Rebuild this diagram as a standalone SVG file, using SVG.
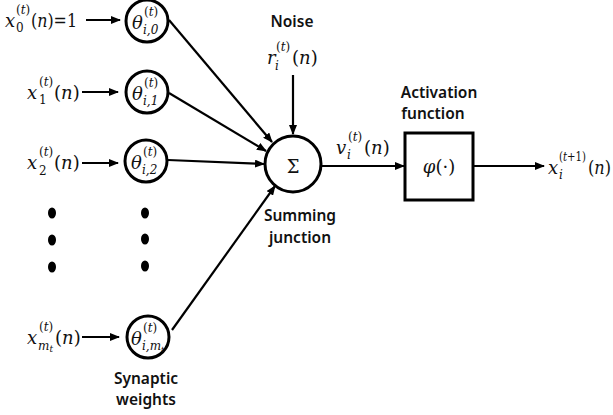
<svg xmlns="http://www.w3.org/2000/svg" width="613" height="415" viewBox="0 0 613 415">
<style>
.m{font-family:"DejaVu Serif","Liberation Serif",serif;font-style:italic;font-size:18px;fill:#111}
.s{font-family:"DejaVu Serif","Liberation Serif",serif;font-style:italic;font-size:12px;fill:#111}
.u{font-family:"DejaVu Serif","Liberation Serif",serif;font-size:18px;fill:#111}
.us{font-family:"DejaVu Serif","Liberation Serif",serif;font-size:12px;fill:#111}
.lbl{font-family:"Noto Sans","Open Sans",sans-serif;font-weight:600;font-size:15.5px;fill:#111;text-anchor:middle}
.c{fill:#fff;stroke:#000;stroke-width:3}
.w{fill:none;stroke:#000;stroke-width:2.2}
.dot{fill:#000}
</style>
<defs>
<marker id="ah" markerWidth="10" markerHeight="8" refX="9" refY="4" orient="auto" markerUnits="userSpaceOnUse">
<path d="M0,0 L10,4 L0,8 z" fill="#000"/>
</marker>
</defs>

<g id="connectors">
<line class="w" x1="86" y1="20" x2="120" y2="20" marker-end="url(#ah)"/>
<line class="w" x1="82" y1="92" x2="118" y2="92" marker-end="url(#ah)"/>
<line class="w" x1="82" y1="163" x2="118" y2="163" marker-end="url(#ah)"/>
<line class="w" x1="82" y1="337" x2="119" y2="337" marker-end="url(#ah)"/>
<line class="w" x1="169" y1="20" x2="272" y2="142" marker-end="url(#ah)"/>
<line class="w" x1="169" y1="93" x2="266" y2="151" marker-end="url(#ah)"/>
<line class="w" x1="168" y1="160" x2="264" y2="164" marker-end="url(#ah)"/>
<line class="w" x1="172" y1="330" x2="275" y2="186" marker-end="url(#ah)"/>
<line class="w" x1="293" y1="75" x2="293" y2="134" marker-end="url(#ah)"/>
<line class="w" x1="322" y1="166" x2="404" y2="166" marker-end="url(#ah)"/>
<line class="w" x1="474" y1="166" x2="544" y2="166" marker-end="url(#ah)"/>
</g>

<g id="input0">
<text class="m" x="5" y="27">x</text><text class="us" x="16" y="14">(<tspan class="s">t</tspan>)</text><text class="us" x="16" y="32">0</text><text class="u" x="31" y="27" textLength="46" lengthAdjust="spacingAndGlyphs">(<tspan class="m">n</tspan>)=1</text>
</g>
<g id="input1">
<text class="m" x="27" y="99">x</text><text class="us" x="39" y="86">(<tspan class="s">t</tspan>)</text><text class="us" x="39" y="104">1</text><text class="u" x="54" y="99">(<tspan class="m">n</tspan>)</text>
</g>
<g id="input2">
<text class="m" x="27" y="169">x</text><text class="us" x="39" y="156">(<tspan class="s">t</tspan>)</text><text class="us" x="39" y="175">2</text><text class="u" x="54" y="169">(<tspan class="m">n</tspan>)</text>
</g>
<g id="inputm">
<text class="m" x="27" y="344">x</text><text class="us" x="39" y="331">(<tspan class="s">t</tspan>)</text><text class="s" x="38" y="350">m<tspan font-size="9" dy="2">t</tspan></text><text class="u" x="55" y="344">(<tspan class="m">n</tspan>)</text>
</g>

<g id="dots-inputs">
<ellipse class="dot" cx="52" cy="213" rx="4" ry="5.5"/>
<ellipse class="dot" cx="52" cy="240" rx="4" ry="5.5"/>
<ellipse class="dot" cx="52" cy="267" rx="4" ry="5.5"/>
</g>
<g id="dots-weights">
<ellipse class="dot" cx="145" cy="213" rx="4" ry="5.5"/>
<ellipse class="dot" cx="145" cy="239" rx="4" ry="5.5"/>
<ellipse class="dot" cx="145" cy="266" rx="4" ry="5.5"/>
</g>

<g id="w0">
<circle class="c" cx="147" cy="21" r="21"/>
<text class="m" x="132" y="29">θ</text><text class="us" x="144" y="16">(<tspan class="s">t</tspan>)</text><text class="s" x="143" y="34">i,0</text>
</g>
<g id="w1">
<circle class="c" cx="147" cy="92" r="21"/>
<text class="m" x="132" y="100">θ</text><text class="us" x="144" y="87">(<tspan class="s">t</tspan>)</text><text class="s" x="143" y="105">i,1</text>
</g>
<g id="w2">
<circle class="c" cx="146" cy="161" r="21"/>
<text class="m" x="131" y="169">θ</text><text class="us" x="143" y="156">(<tspan class="s">t</tspan>)</text><text class="s" x="142" y="174">i,2</text>
</g>
<g id="wm">
<circle class="c" cx="148" cy="337" r="21"/>
<text class="m" x="131" y="345">θ</text><text class="us" x="143" y="332">(<tspan class="s">t</tspan>)</text><text class="s" x="142" y="350">i,m<tspan font-size="8" dy="2">t</tspan></text>
</g>

<g id="sum">
<circle class="c" cx="293" cy="164" r="28"/>
<text class="u" x="293" y="173" text-anchor="middle" font-size="26">Σ</text>
</g>

<g id="noise">
<text class="lbl" x="292" y="27">Noise</text>
<text class="m" x="267" y="64">r</text><text class="us" x="276" y="51">(<tspan class="s">t</tspan>)</text><text class="s" x="275" y="70">i</text><text class="u" x="292" y="64">(<tspan class="m">n</tspan>)</text>
</g>

<g id="vlabel">
<text class="m" x="336" y="154">v</text><text class="us" x="348" y="141">(<tspan class="s">t</tspan>)</text><text class="s" x="347" y="159">i</text><text class="u" x="364" y="154">(<tspan class="m">n</tspan>)</text>
</g>

<g id="activation">
<text class="lbl" x="439" y="98">Activation</text>
<text class="lbl" x="433" y="119">function</text>
<rect x="405" y="133" width="68" height="67" fill="#fff" stroke="#000" stroke-width="3"/>
<text class="u" x="439" y="173" text-anchor="middle"><tspan class="m">φ</tspan>(·)</text>
</g>

<g id="output">
<text class="m" x="548" y="174">x</text><text class="us" x="559" y="161" textLength="27" lengthAdjust="spacingAndGlyphs">(<tspan class="s">t</tspan>+1)</text><text class="s" x="559" y="179">i</text><text class="u" x="588" y="174" textLength="23" lengthAdjust="spacingAndGlyphs">(<tspan class="m">n</tspan>)</text>
</g>

<text class="lbl" x="300" y="221">Summing</text>
<text class="lbl" x="300" y="243">junction</text>
<text class="lbl" x="146" y="384">Synaptic</text>
<text class="lbl" x="146" y="405">weights</text>
</svg>
